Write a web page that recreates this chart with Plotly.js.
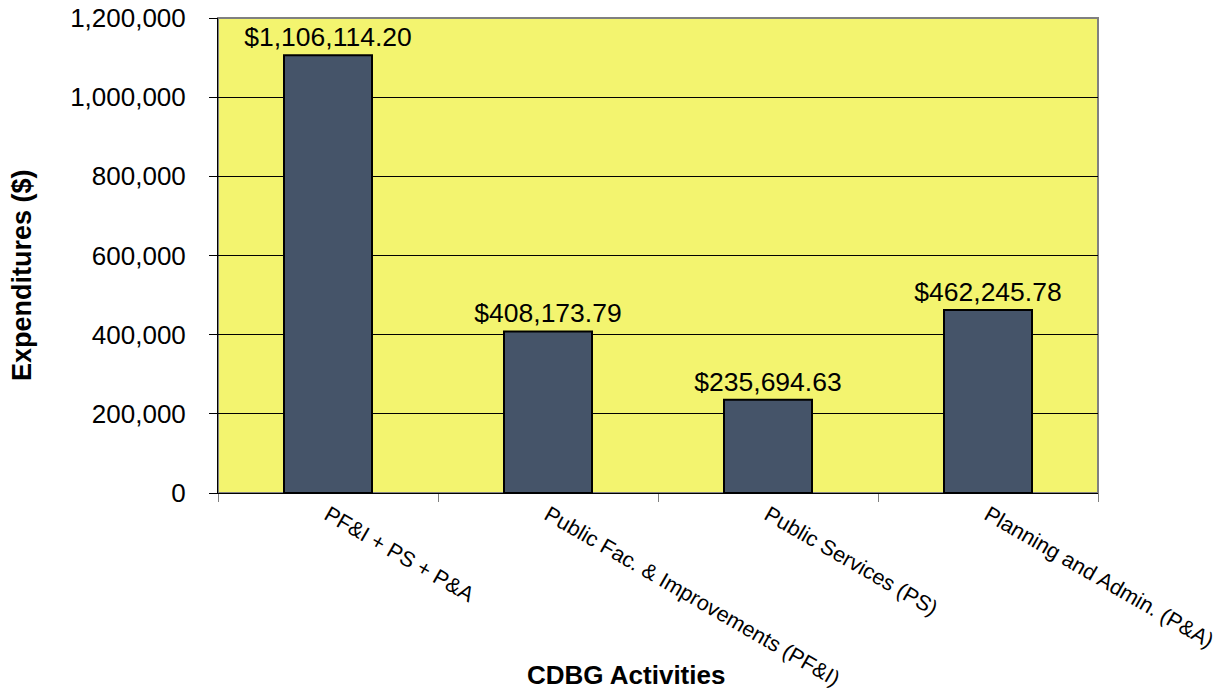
<!DOCTYPE html>
<html>
<head>
<meta charset="utf-8">
<script src="https://cdn.plot.ly/plotly-3.0.1.min.js"></script>
<style>html,body{margin:0;padding:0;background:#fff;}#chart{width:1225px;height:694px;}</style>
</head>
<body>
<div id="chart"></div>
<script>
var categories = ["PF&I + PS + P&A", "Public Fac. & Improvements (PF&I)", "Public Services (PS)", "Planning and Admin. (P&A)"];
var expenditures = [1106114.20, 408173.79, 235694.63, 462245.78];
var valueLabels = ["$1,106,114.20", "$408,173.79", "$235,694.63", "$462,245.78"];
var yTickVals = [0, 200000, 400000, 600000, 800000, 1000000, 1200000];
var xTitle = 'CDBG Activities';
var yTitle = 'Expenditures ($)';

var trace = {
  type: 'bar',
  x: categories,
  y: expenditures,
  text: valueLabels,
  textposition: 'outside',
  constraintext: 'none',
  cliponaxis: false,
  textfont: {family: 'Liberation Sans, Arial, sans-serif', size: 26.5, color: '#000'},
  marker: {color: '#455469', line: {color: '#000', width: 2}},
  width: 0.4,
  hoverinfo: 'none'
};

var layout = {
  width: 1225, height: 694,
  margin: {l: 218, r: 127, t: 18, b: 201},
  paper_bgcolor: '#fff',
  plot_bgcolor: '#F3F46F',
  showlegend: false,
  font: {family: 'Liberation Sans, Arial, sans-serif', color: '#000'},
  xaxis: {
    type: 'category',
    tickangle: 30,
    tickson: 'boundaries',
    ticks: 'outside', ticklen: 8, tickcolor: '#808080', tickwidth: 1,
    showline: true, linecolor: '#000', linewidth: 1,
    showgrid: false,
    tickfont: {size: 21.5}
  },
  yaxis: {
    range: [0, 1200000],
    tickvals: yTickVals,
    tickformat: ',d',
    ticks: 'outside', ticklen: 8, tickcolor: '#000', tickwidth: 1,
    ticklabelstandoff: 18,
    showline: true, linecolor: '#000', linewidth: 1,
    showgrid: true, gridcolor: '#000', gridwidth: 1,
    zeroline: false,
    tickfont: {size: 26}
  },
  annotations: [
    {text: xTitle, xref: 'paper', yref: 'paper', x: 0.4636, y: -0.383, xanchor: 'center', yanchor: 'middle',
     showarrow: false, font: {size: 26, weight: 'bold', color: '#000'}},
    {text: yTitle, xref: 'paper', yref: 'paper', x: -0.2227, y: 0.459, xanchor: 'center', yanchor: 'middle',
     textangle: -90, showarrow: false, font: {size: 27, weight: 'bold', color: '#000'}}
  ],
  shapes: [{
    type: 'rect', xref: 'paper', yref: 'paper', x0: 0, x1: 1, y0: 0, y1: 1,
    line: {color: '#808080', width: 2}, layer: 'below'
  }]
};

Plotly.newPlot('chart', [trace], layout, {displayModeBar: false, staticPlot: true});
</script>
</body>
</html>
